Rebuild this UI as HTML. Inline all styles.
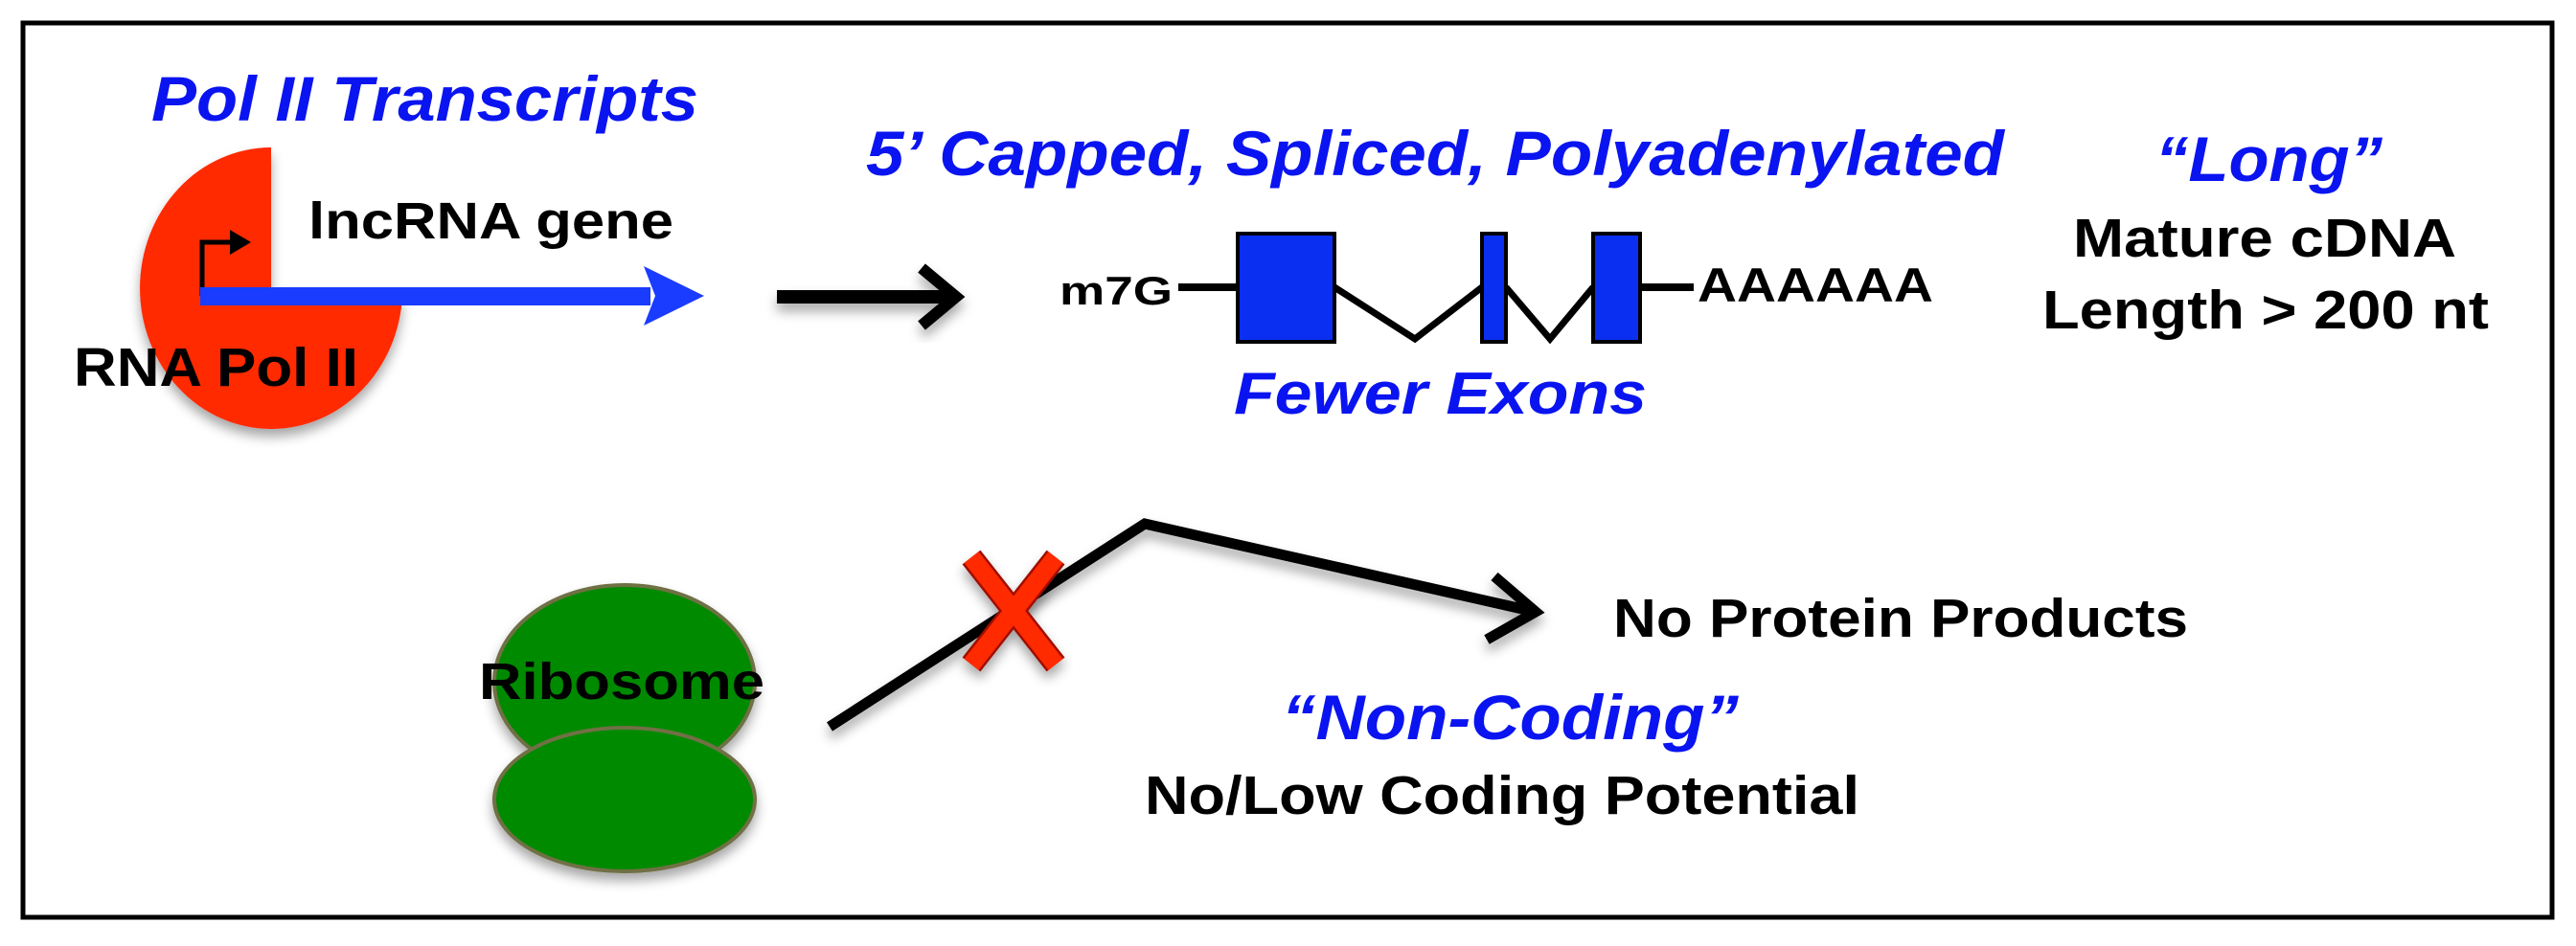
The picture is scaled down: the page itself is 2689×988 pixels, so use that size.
<!DOCTYPE html>
<html><head><meta charset="utf-8"><style>
html,body{margin:0;padding:0;background:#fff;}
svg{display:block;}
text{font-family:"Liberation Sans",Arial,sans-serif;font-weight:bold;}
</style></head><body>
<svg width="2689" height="988" viewBox="0 0 2689 988" xmlns="http://www.w3.org/2000/svg">
<defs>
<filter id="sh" x="-20%" y="-20%" width="140%" height="150%">
<feDropShadow dx="0" dy="8" stdDeviation="6" flood-color="#000" flood-opacity="0.35"/>
</filter>
</defs>
<rect x="0" y="0" width="2689" height="988" fill="#fff"/>
<rect x="24" y="24" width="2640" height="934" fill="#fff" stroke="#000" stroke-width="5"/>

<!-- Red Pol II shape: ellipse with top-right quadrant removed -->
<path d="M283,154 A137,147 0 0 0 283,448 A137,147 0 0 0 420,309 L283,309 Z" fill="#ff2a00" filter="url(#sh)"/>
<!-- promoter bent arrow -->
<path d="M211,309 L211,253 L245,253" fill="none" stroke="#000" stroke-width="5"/>
<path d="M240,240 L262,253 L240,266 Z" fill="#000"/>
<!-- blue arrow -->
<rect x="209" y="300" width="470" height="19" fill="#1a3cff"/>
<path d="M672,278 L735,309 L672,340 L684,309 Z" fill="#1a3cff"/>

<text x="158" y="126" font-size="66" font-style="italic" fill="#0a14f0" textLength="571" lengthAdjust="spacingAndGlyphs">Pol II Transcripts</text>
<text x="322" y="249" font-size="54" fill="#000" textLength="381" lengthAdjust="spacingAndGlyphs">lncRNA gene</text>
<text x="77" y="403" font-size="57" fill="#000" textLength="297" lengthAdjust="spacingAndGlyphs">RNA Pol II</text>

<!-- black arrow -->
<g filter="url(#sh)">
<line x1="811" y1="310" x2="995" y2="310" stroke="#000" stroke-width="14"/>
<path d="M962,280 L998,310 L962,340" fill="none" stroke="#000" stroke-width="12" stroke-linejoin="miter"/>
</g>

<text x="904" y="183" font-size="66" font-style="italic" fill="#0a14f0" textLength="1188" lengthAdjust="spacingAndGlyphs">5’ Capped, Spliced, Polyadenylated</text>

<!-- gene model -->
<text x="1106" y="318" font-size="42" fill="#000" textLength="118" lengthAdjust="spacingAndGlyphs">m7G</text>
<line x1="1230" y1="300" x2="1292" y2="300" stroke="#000" stroke-width="8"/>
<polyline points="1393,300 1477,354 1547,300" fill="none" stroke="#000" stroke-width="7"/>
<polyline points="1572,300 1618,354 1663,300" fill="none" stroke="#000" stroke-width="7"/>
<line x1="1712" y1="300" x2="1768" y2="300" stroke="#000" stroke-width="8"/>
<rect x="1292" y="244" width="101" height="113" fill="#0a2ff0" stroke="#000" stroke-width="4"/>
<rect x="1547" y="244" width="25" height="113" fill="#0a2ff0" stroke="#000" stroke-width="4"/>
<rect x="1663" y="244" width="49" height="113" fill="#0a2ff0" stroke="#000" stroke-width="4"/>
<text x="1772" y="315" font-size="50" fill="#000" textLength="246" lengthAdjust="spacingAndGlyphs">AAAAAA</text>
<text x="1288" y="432" font-size="62" font-style="italic" fill="#0a14f0" textLength="431" lengthAdjust="spacingAndGlyphs">Fewer Exons</text>

<text x="2250" y="189" font-size="66" font-style="italic" fill="#0a14f0" textLength="237" lengthAdjust="spacingAndGlyphs">“Long”</text>
<text x="2164" y="268" font-size="57" fill="#000" textLength="400" lengthAdjust="spacingAndGlyphs">Mature cDNA</text>
<text x="2132" y="343" font-size="57" fill="#000" textLength="466" lengthAdjust="spacingAndGlyphs">Length &gt; 200 nt</text>

<!-- ribosome -->
<g filter="url(#sh)">
<ellipse cx="652" cy="712" rx="136" ry="101" fill="#008a00" stroke="#6f6f45" stroke-width="4"/>
<ellipse cx="652" cy="835" rx="136" ry="75" fill="#008a00" stroke="#6f6f45" stroke-width="4"/>
</g>
<text x="500" y="730" font-size="54" fill="#000" textLength="298" lengthAdjust="spacingAndGlyphs">Ribosome</text>

<!-- bent arrow -->
<g filter="url(#sh)">
<polyline points="866,759 1195,547 1598,638" fill="none" stroke="#000" stroke-width="11" stroke-linejoin="miter"/>
<path d="M1560,602 L1603,639 L1552,668" fill="none" stroke="#000" stroke-width="11"/>
</g>
<!-- red X -->
<g filter="url(#sh)">
<line x1="1014" y1="582" x2="1102" y2="694" stroke="#a01000" stroke-width="24"/>
<line x1="1102" y1="582" x2="1014" y2="694" stroke="#a01000" stroke-width="24"/>
<line x1="1014" y1="582" x2="1102" y2="694" stroke="#ff2a00" stroke-width="19"/>
<line x1="1102" y1="582" x2="1014" y2="694" stroke="#ff2a00" stroke-width="19"/>
</g>

<text x="1684" y="665" font-size="57" fill="#000" textLength="600" lengthAdjust="spacingAndGlyphs">No Protein Products</text>
<text x="1338" y="772" font-size="66" font-style="italic" fill="#0a14f0" textLength="477" lengthAdjust="spacingAndGlyphs">“Non-Coding”</text>
<text x="1195" y="850" font-size="57" fill="#000" textLength="746" lengthAdjust="spacingAndGlyphs">No/Low Coding Potential</text>
</svg>
</body></html>
